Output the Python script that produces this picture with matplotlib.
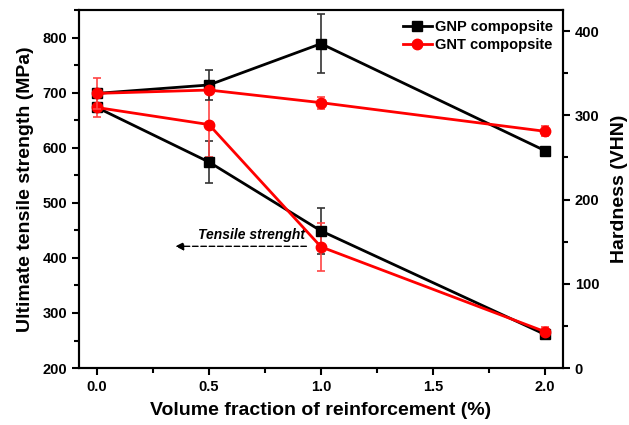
import matplotlib
matplotlib.use("Agg")
import matplotlib.pyplot as plt
from matplotlib.ticker import MultipleLocator, FormatStrFormatter
from matplotlib.lines import Line2D

plt.rcParams['font.family'] = ['Liberation Sans', 'DejaVu Sans']
plt.rcParams['font.weight'] = 'bold'

# Volume fraction of reinforcement (%)
vf = [0.0, 0.5, 1.0, 2.0]

# Ultimate tensile strength (MPa), left axis
gnp_uts = [673, 574, 449, 261]
gnp_uts_err = [0, 38, 42, 0]
gnt_uts = [673, 642, 420, 266]
gnt_uts_err = [17, 58, 44, 9]

# Hardness (VHN), right axis
gnp_hv = [326, 336, 385, 258]
gnp_hv_err = [0, 18, 35, 0]
gnt_hv = [326, 330, 315, 281]
gnt_hv_err = [18, 3, 7, 6]

legend_labels = ["GNP compopsite", "GNT compopsite"]

fig = plt.figure(figsize=(6.29, 4.25), dpi=100)
ax = fig.add_axes([0.1256, 0.134, 0.7694, 0.8425])
ax2 = ax.twinx()

black = "#000000"
red = "#ff0000"
lw = 2.0

def series(axis, y, err, color, marker, ms, ecolor):
    axis.errorbar(vf, y, yerr=err, color=color, marker=marker, ms=ms,
                  lw=lw, ecolor=ecolor, elinewidth=1.2, capsize=3,
                  capthick=1.2, zorder=3)

series(ax, gnp_uts, gnp_uts_err, black, 's', 6.5, "#333333")
series(ax, gnt_uts, gnt_uts_err, red, 'o', 7.5, "#ff4444")
series(ax2, gnp_hv, gnp_hv_err, black, 's', 6.5, "#333333")
series(ax2, gnt_hv, gnt_hv_err, red, 'o', 7.5, "#ff4444")

ax.set_xlim(-0.08, 2.08)
ax.set_ylim(200, 850)
ax2.set_ylim(0, 425)

ax.xaxis.set_major_locator(MultipleLocator(0.5))
ax.xaxis.set_minor_locator(MultipleLocator(0.25))
ax.yaxis.set_major_locator(MultipleLocator(100))
ax.yaxis.set_minor_locator(MultipleLocator(50))
ax2.yaxis.set_major_locator(MultipleLocator(100))
ax2.yaxis.set_minor_locator(MultipleLocator(50))

for a in (ax, ax2):
    for s in a.spines.values():
        s.set_linewidth(1.5)
    a.tick_params(which='major', direction='out', length=5, width=1.5,
                  labelsize=10.5)
    a.tick_params(which='minor', direction='out', length=3.5, width=1.5)
ax.tick_params(axis='x', which='both', top=False)
ax.xaxis.set_major_formatter(FormatStrFormatter('%.1f'))
for lab in ax.get_xticklabels() + ax.get_yticklabels() + ax2.get_yticklabels():
    lab.set_fontweight('bold')

ax.set_xlabel("Volume fraction of reinforcement (%)", fontsize=14,
              fontweight='bold', labelpad=6)
ax.set_ylabel("Ultimate tensile strength (MPa)", fontsize=14,
              fontweight='bold', labelpad=6)
ax2.set_ylabel("Hardness (VHN)", fontsize=14, fontweight='bold', labelpad=8)

handles = [
    Line2D([], [], color=black, lw=lw, marker='s', ms=6.5),
    Line2D([], [], color=red, lw=lw, marker='o', ms=7.5),
]
ax2.legend(handles=handles, labels=legend_labels, loc='upper right',
           frameon=False, prop={'weight': 'bold', 'size': 10.5},
           handlelength=2.0, handletextpad=0.2, borderaxespad=0.3,
           labelspacing=0.25)

# Arrow pointing to the tensile-strength axis
ax.annotate("", xy=(0.35, 421), xytext=(0.935, 421),
            arrowprops=dict(arrowstyle='-|>', linestyle=(0, (4, 2)),
                            color='#444444', lw=1.0, mutation_scale=12,
                            shrinkA=0, shrinkB=0, fc='black', ec='black'))
ax.text(0.69, 428, "Tensile strenght", ha='center', va='bottom',
        fontsize=10, fontweight='bold', fontstyle='italic')

fig.savefig("out.png", dpi=100)
